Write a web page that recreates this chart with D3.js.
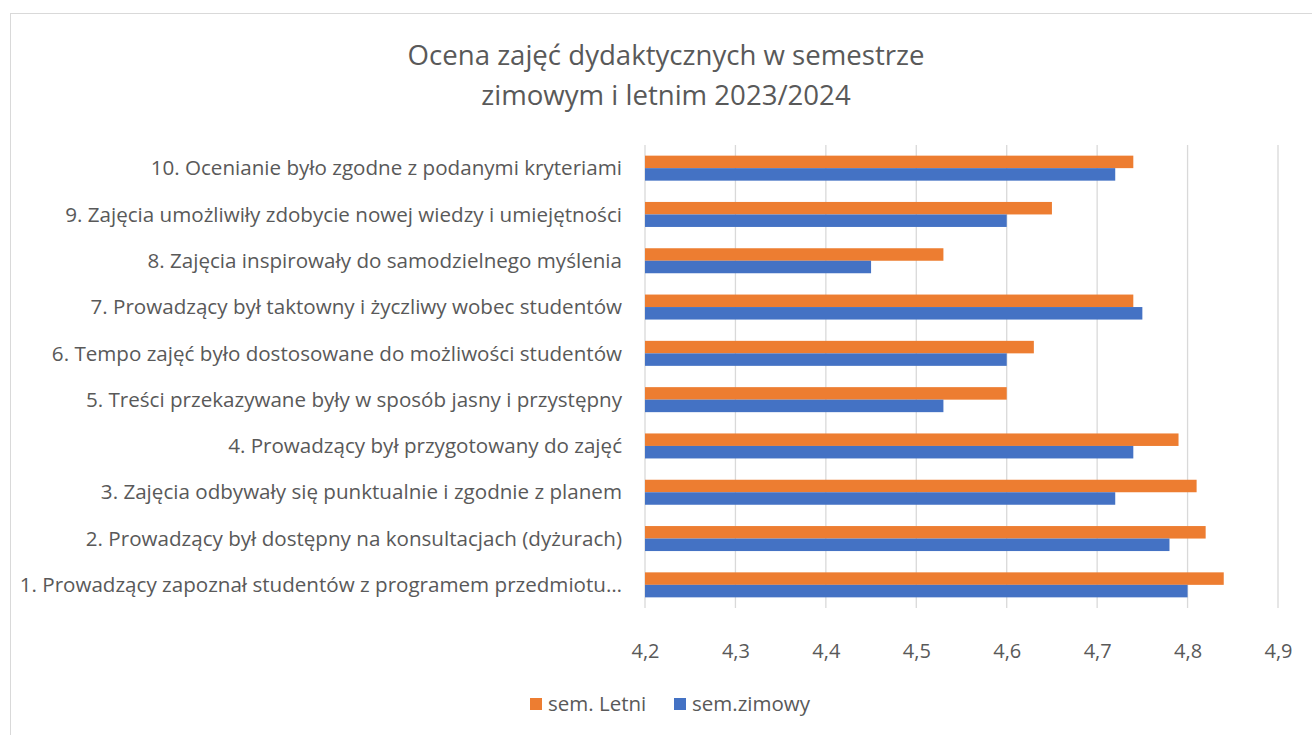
<!DOCTYPE html>
<html>
<head>
<meta charset="utf-8">
<script src="https://cdn.jsdelivr.net/npm/d3@7"></script>
<style>
  body { margin: 0; background: #fff; }
  svg { display: block; font-family: "Open Sans", sans-serif; }
</style>
</head>
<body>
<svg id="chart" width="1312" height="735"></svg>
<script>
// Categories in display order (top to bottom)
const categories = [
  "10. Ocenianie było zgodne z podanymi kryteriami",
  "9. Zajęcia umożliwiły zdobycie nowej wiedzy i umiejętności",
  "8. Zajęcia inspirowały do samodzielnego myślenia",
  "7. Prowadzący był taktowny i życzliwy wobec studentów",
  "6. Tempo zajęć było dostosowane do możliwości studentów",
  "5. Treści przekazywane były w sposób jasny i przystępny",
  "4. Prowadzący był przygotowany do zajęć",
  "3. Zajęcia odbywały się punktualnie i zgodnie z planem",
  "2. Prowadzący był dostępny na konsultacjach (dyżurach)",
  "1. Prowadzący zapoznał studentów z programem przedmiotu…"
];
const letni  = [4.74, 4.65, 4.53, 4.74, 4.63, 4.60, 4.79, 4.81, 4.82, 4.84];
const zimowy = [4.72, 4.60, 4.45, 4.75, 4.60, 4.53, 4.74, 4.72, 4.78, 4.80];
const seriesNames = ["sem. Letni", "sem.zimowy"];
const seriesColors = ["#ED7D31", "#4472C4"];
const xTicks = [4.2, 4.3, 4.4, 4.5, 4.6, 4.7, 4.8, 4.9];
const titleLines = ["Ocena zajęć dydaktycznych w semestrze", "zimowym i letnim 2023/2024"];

const svg = d3.select("#chart");
const textColor = "#595959";

// chart frame
svg.append("rect")
  .attr("x", 10.5).attr("y", 13.5)
  .attr("width", 1320).attr("height", 740)
  .attr("fill", "#fff").attr("stroke", "#d9d9d9");

const plot = {left: 645, right: 1278, top: 145, bottom: 608};

const x = d3.scaleLinear()
  .domain([4.2, 4.9])
  .range([plot.left, plot.right]);

const y = d3.scaleBand()
  .domain(categories)
  .range([plot.top, plot.bottom])
  .paddingInner(0.46).paddingOuter(0.23);

const sub = d3.scaleBand()
  .domain(seriesNames)
  .range([0, y.bandwidth()]);

// gridlines
svg.append("g")
  .selectAll("line")
  .data(xTicks)
  .join("line")
  .attr("x1", d => x(d)).attr("x2", d => x(d))
  .attr("y1", plot.top).attr("y2", plot.bottom)
  .attr("stroke", "#d9d9d9").attr("stroke-width", 1.3);

// bars
const rows = categories.map((c, i) => ({cat: c, vals: [letni[i], zimowy[i]]}));
const groups = svg.append("g")
  .selectAll("g")
  .data(rows)
  .join("g")
  .attr("transform", d => `translate(0,${y(d.cat)})`);

groups.selectAll("rect")
  .data(d => d.vals.map((v, j) => ({v, s: seriesNames[j], c: seriesColors[j]})))
  .join("rect")
  .attr("x", x(4.2))
  .attr("y", d => sub(d.s))
  .attr("width", d => x(d.v) - x(4.2))
  .attr("height", sub.bandwidth())
  .attr("fill", d => d.c);

// category labels
svg.append("g")
  .selectAll("text")
  .data(categories)
  .join("text")
  .attr("x", 622)
  .attr("y", d => y(d) + y.bandwidth() / 2)
  .attr("dy", "0.35em")
  .attr("text-anchor", "end")
  .attr("font-size", 20.6)
  .attr("fill", textColor)
  .text(d => d);

// x axis labels
const xAxis = svg.append("g")
  .attr("transform", `translate(0,${plot.bottom})`)
  .call(d3.axisBottom(x).tickValues(xTicks).tickSize(0).tickPadding(36)
    .tickFormat(d => d3.format(".1f")(d).replace(".", ",")));
xAxis.select(".domain").remove();
xAxis.selectAll("text")
  .attr("font-family", "Open Sans, sans-serif")
  .attr("font-size", 20)
  .attr("fill", textColor);

// title
svg.append("g")
  .selectAll("text")
  .data(titleLines)
  .join("text")
  .attr("x", 666)
  .attr("y", (d, i) => 65 + i * 40)
  .attr("text-anchor", "middle")
  .attr("font-size", 27.6)
  .attr("fill", textColor)
  .text(d => d);

// legend
const legend = svg.append("g").attr("transform", "translate(530,704)");
const legendX = [0, 144];
seriesNames.forEach((s, i) => {
  const g = legend.append("g").attr("transform", `translate(${legendX[i]},0)`);
  g.append("rect").attr("x", 0).attr("y", -6).attr("width", 12).attr("height", 12)
    .attr("fill", seriesColors[i]);
  g.append("text").attr("x", 18).attr("y", 0).attr("dy", "0.35em")
    .attr("font-size", 20.5).attr("fill", textColor).text(s);
});
</script>
</body>
</html>
